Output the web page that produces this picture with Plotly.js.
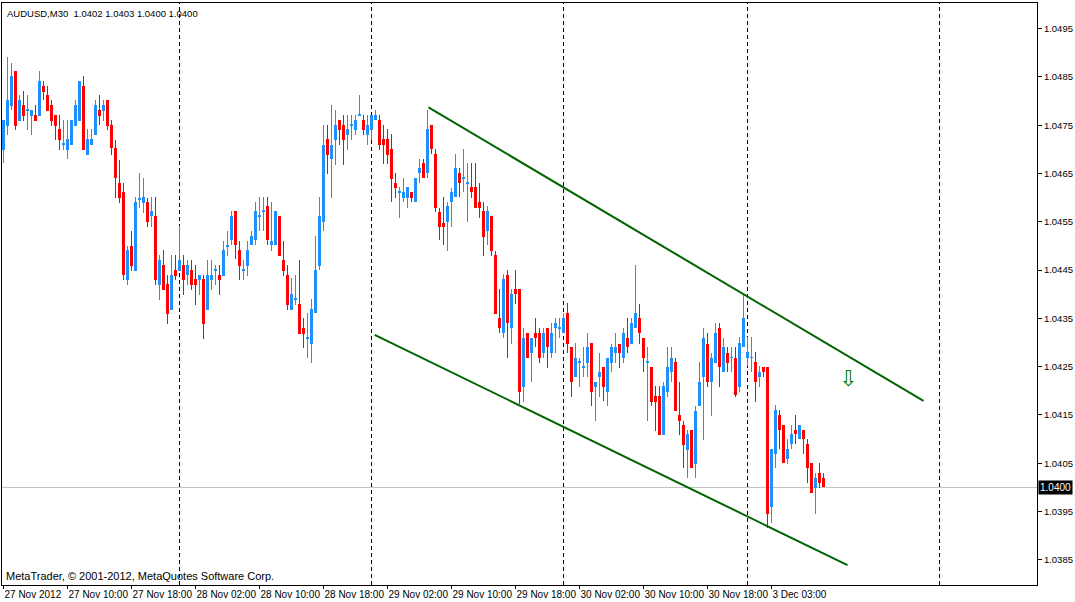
<!DOCTYPE html>
<html>
<head>
<meta charset="utf-8">
<script src="https://cdn.plot.ly/plotly-3.0.1.min.js"></script>
<style>
  html, body { margin: 0; padding: 0; background: #ffffff; }
  #chart { width: 1075px; height: 602px; }
</style>
</head>
<body>
<div id="chart"></div>
<script>
// ---- Data: AUDUSD M30 bars, 27 Nov 2012 02:00 .. 3 Dec 2012 09:30 ----
var openP = [
1.04698,1.04748,1.04789,1.04862,1.04758,1.04791,1.04781,1.04769,1.04771,1.04769,
1.04831,1.04812,1.04791,1.04771,1.04742,1.04710,1.04698,1.04708,1.04748,1.04758,
1.04831,1.04688,1.04708,1.04729,1.04781,1.04779,1.04802,1.04750,1.04702,1.04630,
1.04611,1.04429,1.04499,1.04448,1.04597,1.04588,1.04591,1.04562,1.04562,1.04419,
1.04460,1.04421,1.04367,1.04450,1.04448,1.04460,1.04439,1.04450,1.04431,1.04429,
1.04431,1.04367,1.04429,1.04449,1.04439,1.04437,1.04498,1.04512,1.04572,1.04491,
1.04449,1.04458,1.04501,1.04512,1.04561,1.04571,1.04582,1.04501,1.04501,1.04562,
1.04470,1.04439,1.04367,1.04389,1.04379,1.04330,1.04308,1.04298,1.04361,1.04458,
1.04549,1.04721,1.04679,1.04719,1.04760,1.04750,1.04729,1.04749,1.04740,1.04770,
1.04760,1.04729,1.04740,1.04760,1.04760,1.04721,1.04721,1.04700,1.04630,1.04610,
1.04599,1.04599,1.04611,1.04591,1.04650,1.04671,1.04650,1.04750,1.04690,1.04570,
1.04547,1.04549,1.04591,1.04601,1.04650,1.04639,1.04629,1.04622,1.04622,1.04591,
1.04572,1.04530,1.04562,1.04481,1.04350,1.04319,1.04439,1.04330,1.04410,1.04410,
1.04207,1.04319,1.04278,1.04319,1.04319,1.04278,1.04330,1.04278,1.04330,1.04329,
1.04319,1.04361,1.04290,1.04228,1.04258,1.04248,1.04257,1.04300,1.04207,1.04228,
1.04249,1.04197,1.04257,1.04278,1.04298,1.04269,1.04309,1.04298,1.04330,1.04350,
1.04309,1.04258,1.04249,1.04189,1.04189,1.04108,1.04197,1.04238,1.04259,1.04149,
1.04129,1.04077,1.04118,1.04048,1.04168,1.04228,1.04298,1.04218,1.04257,1.04330,
1.04238,1.04278,1.04268,1.04269,1.04207,1.04290,1.04269,1.04268,1.04259,1.04228,
1.04249,1.04249,1.03959,1.04069,1.04149,1.04129,1.04058,1.04089,1.04118,1.04100,
1.04118,1.04089,1.04050,1.03998,1.04029,1.04020
];
var highP = [
1.04760,1.04891,1.04879,1.04862,1.04812,1.04820,1.04812,1.04781,1.04791,1.04862,
1.04841,1.04831,1.04802,1.04771,1.04771,1.04760,1.04760,1.04760,1.04802,1.04841,
1.04851,1.04742,1.04742,1.04802,1.04812,1.04802,1.04802,1.04760,1.04719,1.04677,
1.04630,1.04499,1.04530,1.04601,1.04650,1.04640,1.04599,1.04601,1.04601,1.04481,
1.04491,1.04439,1.04481,1.04481,1.04541,1.04481,1.04470,1.04470,1.04460,1.04439,
1.04439,1.04470,1.04470,1.04460,1.04460,1.04510,1.04530,1.04572,1.04572,1.04510,
1.04470,1.04510,1.04530,1.04591,1.04601,1.04601,1.04601,1.04591,1.04572,1.04562,
1.04510,1.04460,1.04433,1.04439,1.04470,1.04350,1.04361,1.04390,1.04520,1.04601,
1.04750,1.04750,1.04791,1.04781,1.04760,1.04771,1.04771,1.04771,1.04771,1.04812,
1.04771,1.04771,1.04771,1.04781,1.04771,1.04750,1.04742,1.04731,1.04650,1.04622,
1.04640,1.04622,1.04611,1.04640,1.04681,1.04681,1.04781,1.04750,1.04700,1.04578,
1.04601,1.04591,1.04620,1.04690,1.04661,1.04700,1.04671,1.04671,1.04671,1.04630,
1.04591,1.04582,1.04562,1.04489,1.04410,1.04441,1.04450,1.04410,1.04450,1.04410,
1.04330,1.04319,1.04309,1.04350,1.04330,1.04330,1.04330,1.04340,1.04350,1.04350,
1.04361,1.04381,1.04290,1.04300,1.04269,1.04290,1.04319,1.04300,1.04218,1.04278,
1.04249,1.04269,1.04298,1.04319,1.04298,1.04330,1.04350,1.04350,1.04460,1.04379,
1.04309,1.04290,1.04249,1.04209,1.04209,1.04218,1.04290,1.04290,1.04269,1.04218,
1.04137,1.04118,1.04118,1.04168,1.04259,1.04330,1.04319,1.04278,1.04340,1.04340,
1.04309,1.04290,1.04290,1.04290,1.04311,1.04398,1.04311,1.04311,1.04280,1.04251,
1.04249,1.04249,1.04079,1.04170,1.04160,1.04129,1.04100,1.04129,1.04149,1.04129,
1.04118,1.04100,1.04050,1.04029,1.04050,1.04030
];
var lowP = [
1.04671,1.04729,1.04781,1.04740,1.04758,1.04758,1.04740,1.04729,1.04758,1.04769,
1.04802,1.04779,1.04748,1.04719,1.04698,1.04698,1.04679,1.04708,1.04748,1.04758,
1.04698,1.04688,1.04708,1.04729,1.04750,1.04758,1.04740,1.04688,1.04599,1.04588,
1.04429,1.04419,1.04448,1.04448,1.04578,1.04568,1.04539,1.04539,1.04419,1.04388,
1.04408,1.04338,1.04367,1.04429,1.04448,1.04398,1.04419,1.04408,1.04377,1.04398,
1.04307,1.04367,1.04408,1.04419,1.04398,1.04437,1.04479,1.04501,1.04472,1.04429,
1.04429,1.04437,1.04501,1.04501,1.04530,1.04530,1.04501,1.04489,1.04501,1.04479,
1.04437,1.04367,1.04367,1.04377,1.04317,1.04288,1.04267,1.04257,1.04361,1.04450,
1.04530,1.04648,1.04599,1.04667,1.04708,1.04667,1.04698,1.04719,1.04729,1.04770,
1.04729,1.04708,1.04719,1.04760,1.04698,1.04669,1.04669,1.04591,1.04599,1.04557,
1.04591,1.04578,1.04591,1.04591,1.04630,1.04640,1.04640,1.04690,1.04570,1.04512,
1.04501,1.04489,1.04539,1.04601,1.04601,1.04611,1.04549,1.04599,1.04578,1.04557,
1.04479,1.04501,1.04479,1.04359,1.04319,1.04309,1.04267,1.04298,1.04379,1.04172,
1.04176,1.04267,1.04218,1.04290,1.04257,1.04267,1.04247,1.04267,1.04278,1.04309,
1.04319,1.04278,1.04187,1.04228,1.04207,1.04228,1.04228,1.04168,1.04137,1.04187,
1.04178,1.04168,1.04238,1.04257,1.04247,1.04257,1.04278,1.04298,1.04330,1.04298,
1.04238,1.04137,1.04168,1.04116,1.04108,1.04108,1.04187,1.04218,1.04158,1.04108,
1.04040,1.04019,1.04040,1.04019,1.04168,1.04098,1.04207,1.04147,1.04257,1.04207,
1.04238,1.04238,1.04238,1.04187,1.04197,1.04290,1.04251,1.04238,1.04176,1.04207,
1.04228,1.03917,1.03926,1.04040,1.04079,1.04050,1.04048,1.04079,1.04089,1.04100,
1.04069,1.04009,1.03988,1.03946,1.03998,1.04000
];
var closeP = [
1.04760,1.04802,1.04851,1.04748,1.04802,1.04769,1.04783,1.04781,1.04758,1.04841,
1.04818,1.04779,1.04758,1.04748,1.04719,1.04712,1.04721,1.04760,1.04791,1.04841,
1.04698,1.04721,1.04721,1.04791,1.04769,1.04791,1.04748,1.04702,1.04640,1.04599,
1.04439,1.04491,1.04458,1.04591,1.04599,1.04601,1.04549,1.04572,1.04429,1.04470,
1.04408,1.04359,1.04439,1.04437,1.04470,1.04429,1.04460,1.04419,1.04419,1.04439,
1.04338,1.04439,1.04439,1.04451,1.04429,1.04491,1.04500,1.04562,1.04501,1.04458,
1.04451,1.04491,1.04520,1.04572,1.04563,1.04573,1.04512,1.04510,1.04572,1.04479,
1.04448,1.04377,1.04400,1.04391,1.04317,1.04317,1.04310,1.04369,1.04450,1.04562,
1.04710,1.04688,1.04710,1.04750,1.04740,1.04719,1.04742,1.04751,1.04760,1.04772,
1.04740,1.04750,1.04771,1.04771,1.04708,1.04708,1.04688,1.04638,1.04620,1.04612,
1.04611,1.04622,1.04599,1.04640,1.04661,1.04640,1.04742,1.04700,1.04578,1.04539,
1.04539,1.04582,1.04611,1.04661,1.04630,1.04641,1.04631,1.04611,1.04578,1.04578,
1.04518,1.04572,1.04489,1.04359,1.04330,1.04431,1.04340,1.04400,1.04400,1.04197,
1.04309,1.04267,1.04309,1.04309,1.04267,1.04319,1.04290,1.04319,1.04340,1.04331,
1.04350,1.04298,1.04218,1.04269,1.04260,1.04250,1.04290,1.04197,1.04218,1.04238,
1.04207,1.04269,1.04290,1.04290,1.04278,1.04319,1.04290,1.04340,1.04361,1.04319,
1.04269,1.04260,1.04176,1.04176,1.04108,1.04209,1.04249,1.04269,1.04158,1.04137,
1.04087,1.04110,1.04040,1.04158,1.04218,1.04309,1.04218,1.04269,1.04319,1.04249,
1.04290,1.04257,1.04270,1.04191,1.04300,1.04350,1.04280,1.04270,1.04218,1.04238,
1.04238,1.03946,1.04079,1.04160,1.04118,1.04050,1.04079,1.04110,1.04110,1.04129,
1.04100,1.04040,1.03988,1.04019,1.04009,1.04000
];

// time axis labels (bar index -> label)
var tickBars   = [0, 16, 32, 48, 64, 80, 96, 112, 128, 144, 160, 176, 192];
var tickLabels = ["27 Nov 2012", "27 Nov 10:00", "27 Nov 18:00", "28 Nov 02:00", "28 Nov 10:00",
                  "28 Nov 18:00", "29 Nov 02:00", "29 Nov 10:00", "29 Nov 18:00", "30 Nov 02:00",
                  "30 Nov 10:00", "30 Nov 18:00", "3 Dec 03:00"];
// day separators (bar index of 00:00 of each day)
var daySeparators = [44, 92, 140, 186, 234];

// trend channel (bar index, price)
var upperLineBars   = [106.25, 230];
var upperLinePrices = [1.04787, 1.04179];
var lowerLineBars   = [92.8, 211];
var lowerLinePrices = [1.04316, 1.03839];

// sell arrow object
var arrowBar = [211];
var arrowPrice = [1.04226];

var symbolName = "AUDUSD,M30";
var lastBar = {open: "1.0402", high: "1.0403", low: "1.0400", close: "1.0400"};

// ---- Build traces ----
var BULL = "#1E90FF", BEAR = "#FF0000";
var bx = {up: [], dn: []}, bBase = {up: [], dn: []}, bH = {up: [], dn: []};
var wx = {up: [], dn: []}, wBase = {up: [], dn: []}, wH = {up: [], dn: []};
var MINBODY = 0.00002;
for (var i = 0; i < openP.length; i++) {
  var k = closeP[i] >= openP[i] ? "up" : "dn";
  var lo = Math.min(openP[i], closeP[i]);
  var h = Math.abs(closeP[i] - openP[i]);
  if (h < MINBODY) { h = MINBODY; }
  bx[k].push(i); bBase[k].push(lo); bH[k].push(h);
  wx[k].push(i); wBase[k].push(lowP[i]); wH[k].push(highP[i] - lowP[i]);
}
function barTrace(x, base, y, color, width) {
  return {type: "bar", x: x, base: base, y: y, width: width,
          marker: {color: color, line: {width: 0}}, hoverinfo: "skip", showlegend: false};
}
var traces = [
  barTrace(wx.up, wBase.up, wH.up, BULL, 0.25),
  barTrace(wx.dn, wBase.dn, wH.dn, BEAR, 0.25),
  barTrace(bx.up, bBase.up, bH.up, BULL, 0.75),
  barTrace(bx.dn, bBase.dn, bH.dn, BEAR, 0.75)
];

var shapes = [];
daySeparators.forEach(function (d) {
  shapes.push({type: "line", xref: "x", yref: "paper", x0: d, x1: d, y0: 0, y1: 1, layer: "below",
               line: {color: "#000000", width: 1, dash: "4px,3px"}});
});
var lastClose = closeP[closeP.length - 1];
shapes.push({type: "line", xref: "paper", yref: "y", x0: 0, x1: 1, y0: lastClose, y1: lastClose,
             layer: "below", line: {color: "#C0C0C0", width: 1}});
shapes.push({type: "line", xref: "x", yref: "y", x0: upperLineBars[0], x1: upperLineBars[1],
             y0: upperLinePrices[0], y1: upperLinePrices[1], line: {color: "#006400", width: 2}});
shapes.push({type: "line", xref: "x", yref: "y", x0: lowerLineBars[0], x1: lowerLineBars[1],
             y0: lowerLinePrices[0], y1: lowerLinePrices[1], line: {color: "#006400", width: 2}});

var FONT = "Liberation Sans, Arial, sans-serif";
var annotations = [
  {xref: "paper", yref: "paper", x: 0, y: 1, xanchor: "left", yanchor: "top", xshift: 3, yshift: -3,
   showarrow: false, font: {family: FONT, size: 9.5, color: "#000"},
   text: symbolName + "\u00a0\u00a0" + lastBar.open + " " + lastBar.high + " " + lastBar.low + " " + lastBar.close},
  {xref: "paper", yref: "paper", x: 0, y: 0, xanchor: "left", yanchor: "bottom", xshift: 2, yshift: 1,
   showarrow: false, font: {family: FONT, size: 11, color: "#000"},
   text: "MetaTrader, \u00a9 2001-2012, MetaQuotes Software Corp."},
  {xref: "paper", yref: "y", x: 1, y: lastClose, xanchor: "left", yanchor: "middle", xshift: 1,
   showarrow: false, bgcolor: "#000000", borderpad: 1,
   font: {family: FONT, size: 10, color: "#ffffff"}, text: lastClose.toFixed(4)},
  {xref: "x", yref: "y", x: arrowBar[0], y: arrowPrice[0], showarrow: false,
   font: {family: "DejaVu Sans", size: 22, color: "#008000"}, text: "\u21e9"}
];

var layout = {
  width: 1075, height: 602,
  margin: {l: 2, r: 38, t: 3, b: 17, pad: 0},
  paper_bgcolor: "#ffffff", plot_bgcolor: "#ffffff",
  barmode: "overlay", bargap: 0, bargroupgap: 0,
  showlegend: false, hovermode: false,
  font: {family: FONT, size: 10, color: "#000"},
  xaxis: {type: "linear", range: [-0.375, 258.375], fixedrange: true, automargin: false,
          showgrid: false, zeroline: false, showline: true, mirror: true, linecolor: "#000", linewidth: 1,
          tickmode: "array", tickvals: tickBars, ticktext: tickLabels, tickangle: 0,
          ticks: "outside", ticklen: 3, tickcolor: "#000", tickwidth: 1,
          ticklabelposition: "outside right",
          tickfont: {family: FONT, size: 10, color: "#000"}},
  yaxis: {side: "right", range: [1.03798, 1.05003], fixedrange: true, automargin: false,
          showgrid: false, zeroline: false, showline: true, mirror: true, linecolor: "#000", linewidth: 1,
          tickmode: "linear", tick0: 1.0385, dtick: 0.001, tickformat: ".4f",
          ticks: "outside", ticklen: 4, tickcolor: "#000", tickwidth: 1,
          tickfont: {family: FONT, size: 9.5, color: "#000"}},
  shapes: shapes,
  annotations: annotations
};

Plotly.newPlot("chart", traces, layout, {displayModeBar: false, staticPlot: false, responsive: false});
</script>
</body>
</html>
